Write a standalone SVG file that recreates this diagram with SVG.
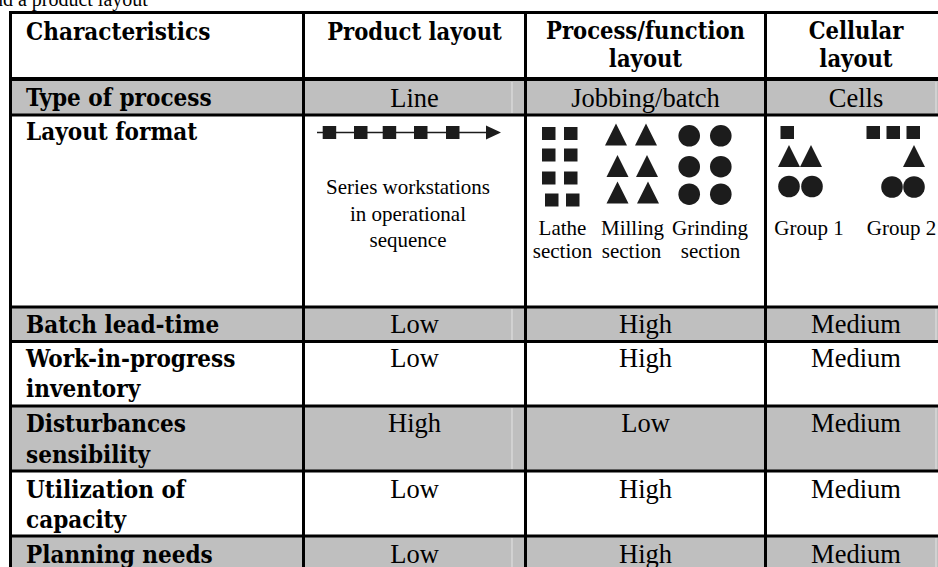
<svg xmlns="http://www.w3.org/2000/svg" width="938" height="567" viewBox="0 0 938 567">
  <style>
    .hd { font-family: "DejaVu Serif Condensed", "DejaVu Serif", serif; font-stretch: condensed; font-weight: bold; font-size: 24px; fill: #000; }
    .hc { text-anchor: middle; font-size: 23.5px; }
    .v { font-family: "Liberation Serif", "Times New Roman", serif; font-size: 26.5px; fill: #000; text-anchor: middle; }
    .s { font-family: "Liberation Serif", "Times New Roman", serif; font-size: 21px; fill: #000; text-anchor: middle; }
    .cap { font-family: "Liberation Serif", "Times New Roman", serif; font-size: 20px; fill: #000; }
    .band { fill: #bfbfbf; }
    .seam { stroke: #e4e4e4; stroke-width: 1; }
    .rule { stroke: #000; stroke-width: 3; fill: none; }
    .mark { fill: #1c1c1c; }
  </style>
  <defs>
    <rect id="sq" width="13.5" height="13" class="mark"/>
    <path id="tri" d="M0,22 L11,0 L22,22 Z" class="mark"/>
    <circle id="dot" r="10.8" class="mark"/>
  </defs>

  <rect width="938" height="567" fill="#fff"/>

  <!-- sentence running above the table -->
  <text class="cap" x="-16" y="5.5">and a product layout</text>

  <!-- shaded rows -->
  <g id="bands">
    <rect class="band" x="10" y="79" width="930" height="36"/>
    <rect class="band" x="10" y="307" width="930" height="34.5"/>
    <rect class="band" x="10" y="406" width="930" height="65"/>
    <rect class="band" x="10" y="536" width="930" height="31"/>
    <g class="seam">
      <line x1="512" y1="82" x2="512" y2="113"/>
      <line x1="936" y1="82" x2="936" y2="113"/>
      <line x1="512" y1="309" x2="512" y2="340"/>
      <line x1="936" y1="309" x2="936" y2="340"/>
      <line x1="512" y1="408" x2="512" y2="469"/>
      <line x1="936" y1="408" x2="936" y2="469"/>
      <line x1="512" y1="538" x2="512" y2="567"/>
      <line x1="936" y1="538" x2="936" y2="567"/>
    </g>
  </g>

  <!-- table rules -->
  <g id="rules" class="rule">
    <line x1="9" y1="12.5" x2="940" y2="12.5"/>
    <line x1="9" y1="79" x2="940" y2="79" stroke-width="4"/>
    <line x1="9" y1="115" x2="940" y2="115"/>
    <line x1="9" y1="307" x2="940" y2="307"/>
    <line x1="9" y1="341.5" x2="940" y2="341.5"/>
    <line x1="9" y1="406" x2="940" y2="406"/>
    <line x1="9" y1="471" x2="940" y2="471"/>
    <line x1="9" y1="536" x2="940" y2="536"/>
    <line x1="10.5" y1="11" x2="10.5" y2="567"/>
    <line x1="303.5" y1="11" x2="303.5" y2="567"/>
    <line x1="525.5" y1="11" x2="525.5" y2="567"/>
    <line x1="765.5" y1="11" x2="765.5" y2="567"/>
  </g>

  <!-- header row -->
  <g id="header">
    <text class="hd" x="26" y="40">Characteristics</text>
    <text class="hd hc" x="414.5" y="40">Product layout</text>
    <text class="hd hc" x="645.5" y="39">Process/function</text>
    <text class="hd hc" x="645.5" y="67">layout</text>
    <text class="hd hc" x="856" y="39">Cellular</text>
    <text class="hd hc" x="856" y="67">layout</text>
  </g>

  <g id="row-type">
    <text class="hd" x="26" y="106">Type of process</text>
    <text class="v" x="414.5" y="106.5">Line</text>
    <text class="v" x="645.5" y="106.5">Jobbing/batch</text>
    <text class="v" x="856" y="106.5">Cells</text>
  </g>

  <g id="row-layout">
    <text class="hd" x="26" y="140">Layout format</text>

    <!-- product layout: workstations in a line -->
    <g id="product-line">
      <line x1="317" y1="132.5" x2="490" y2="132.5" stroke="#1c1c1c" stroke-width="1.6"/>
      <use href="#sq" x="322.7" y="126"/>
      <use href="#sq" x="354" y="126"/>
      <use href="#sq" x="382.7" y="126"/>
      <use href="#sq" x="414" y="126"/>
      <use href="#sq" x="446" y="126"/>
      <polygon class="mark" points="486,125.5 501,132.5 486,139.5"/>
      <text class="s" x="408" y="194">Series workstations</text>
      <text class="s" x="408" y="221">in operational</text>
      <text class="s" x="408" y="247">sequence</text>
    </g>

    <!-- process layout: machines grouped by function -->
    <g id="lathe-section">
      <use href="#sq" x="542" y="127"/>
      <use href="#sq" x="564" y="127"/>
      <use href="#sq" x="542" y="148.5"/>
      <use href="#sq" x="564" y="148.5"/>
      <use href="#sq" x="542" y="171.5"/>
      <use href="#sq" x="564" y="171.5"/>
      <use href="#sq" x="545" y="193.5"/>
      <use href="#sq" x="566" y="193.5"/>
      <text class="s" x="562.5" y="235">Lathe</text>
      <text class="s" x="562.5" y="258">section</text>
    </g>
    <g id="milling-section">
      <use href="#tri" x="605" y="123.5"/>
      <use href="#tri" x="635" y="123.5"/>
      <use href="#tri" x="606.5" y="155"/>
      <use href="#tri" x="636" y="155"/>
      <use href="#tri" x="606.5" y="181.5"/>
      <use href="#tri" x="637" y="181.5"/>
      <text class="s" x="632.5" y="235">Milling</text>
      <text class="s" x="631.5" y="258">section</text>
    </g>
    <g id="grinding-section">
      <use href="#dot" x="689.2" y="135.8"/>
      <use href="#dot" x="720.8" y="135.8"/>
      <use href="#dot" x="689.2" y="166.7"/>
      <use href="#dot" x="720.8" y="166.7"/>
      <use href="#dot" x="689.2" y="194.2"/>
      <use href="#dot" x="720.8" y="194.2"/>
      <text class="s" x="710" y="235">Grinding</text>
      <text class="s" x="710.5" y="258">section</text>
    </g>

    <!-- cellular layout: mixed machine groups -->
    <g id="group-1">
      <use href="#sq" x="780.5" y="126"/>
      <use href="#tri" x="778" y="145"/>
      <use href="#tri" x="800" y="145"/>
      <use href="#dot" x="789" y="186.5"/>
      <use href="#dot" x="812" y="186.5"/>
      <text class="s" x="809" y="235">Group 1</text>
    </g>
    <g id="group-2">
      <use href="#sq" x="866.5" y="126"/>
      <use href="#sq" x="886.5" y="126"/>
      <use href="#sq" x="906.5" y="126"/>
      <use href="#tri" x="903" y="145"/>
      <use href="#dot" x="892" y="187"/>
      <use href="#dot" x="914" y="187"/>
      <text class="s" x="901.5" y="235">Group 2</text>
    </g>
  </g>

  <g id="row-leadtime">
    <text class="hd" x="26" y="333">Batch lead-time</text>
    <text class="v" x="414.5" y="333">Low</text>
    <text class="v" x="645.5" y="333">High</text>
    <text class="v" x="856" y="333">Medium</text>
  </g>

  <g id="row-wip">
    <text class="hd" x="26" y="366.5">Work-in-progress</text>
    <text class="hd" x="26" y="397">inventory</text>
    <text class="v" x="414.5" y="366.5">Low</text>
    <text class="v" x="645.5" y="366.5">High</text>
    <text class="v" x="856" y="366.5">Medium</text>
  </g>

  <g id="row-disturbance">
    <text class="hd" x="26" y="432">Disturbances</text>
    <text class="hd" x="26" y="462.5">sensibility</text>
    <text class="v" x="414.5" y="431.5">High</text>
    <text class="v" x="645.5" y="431.5">Low</text>
    <text class="v" x="856" y="431.5">Medium</text>
  </g>

  <g id="row-utilization">
    <text class="hd" x="26" y="497.5">Utilization of</text>
    <text class="hd" x="26" y="528">capacity</text>
    <text class="v" x="414.5" y="497.5">Low</text>
    <text class="v" x="645.5" y="497.5">High</text>
    <text class="v" x="856" y="497.5">Medium</text>
  </g>

  <g id="row-planning">
    <text class="hd" x="26" y="562.5">Planning needs</text>
    <text class="v" x="414.5" y="562.5">Low</text>
    <text class="v" x="645.5" y="562.5">High</text>
    <text class="v" x="856" y="562.5">Medium</text>
  </g>
</svg>
